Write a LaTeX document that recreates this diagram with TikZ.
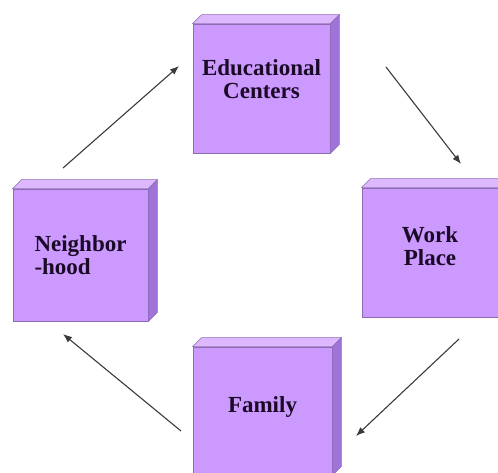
\documentclass[tikz,border=0pt]{standalone}
\usepackage{fontspec}
\setmainfont{Liberation Serif}[BoldFont={Liberation Serif Bold}]
\usetikzlibrary{arrows.meta,calc}
\definecolor{boxfront}{HTML}{CC99FF}
\definecolor{boxtop}{HTML}{DDB8FF}
\definecolor{boxside}{HTML}{9F73D9}
\definecolor{boxline}{HTML}{8C6BB3}
\definecolor{arrowgray}{HTML}{3A3A3A}
\definecolor{textcol}{HTML}{1A0A26}
\tikzset{
  box/.style={draw=boxline, line width=0.8pt, fill=boxfront, inner sep=0pt, align=center,
    text=textcol, font=\bfseries\fontsize{23}{23}\selectfont},
  boxtopface/.style={draw=boxline, line width=0.6pt, fill=boxtop},
  boxsideface/.style={draw=boxline, line width=0.6pt, fill=boxside},
  flow/.style={-{Latex[length=9pt,width=7pt]}, draw=arrowgray, line width=1.1pt}
}
\newcommand{\extrude}[1]{%
  \fill[boxtopface] (#1.north west) -- ++(9,-9) -- ($(#1.north east)+(9,-9)$) -- (#1.north east) -- cycle;
  \fill[boxsideface] (#1.north east) -- ++(9,-9) -- ($(#1.south east)+(9,-9)$) -- (#1.south east) -- cycle;
}
\begin{document}
\begin{tikzpicture}[x=1pt,y=-1pt]
\useasboundingbox (0,0) rectangle (498,472);
\clip (0,0) rectangle (498,472);
\node[box, minimum width=137pt, minimum height=129pt] (edu) at (261.5,88.5) {Educational\\Centers\\[-4pt]};
\node[box, minimum width=135pt, minimum height=132pt, align=left] (nbr) at (80.5,255) {Neighbor\\-hood};
\node[box, minimum width=136pt, minimum height=129pt] (work) at (430,252.5) {Work\\Place\\[-10pt]};
\node[box, minimum width=139pt, minimum height=128pt] (fam) at (262.5,411) {Family\\[-10pt]};
\extrude{edu}
\extrude{nbr}
\extrude{work}
\extrude{fam}
\coordinate (a1s) at (63,168);
\coordinate (a1e) at (179,66);
\coordinate (a2s) at (386,67);
\coordinate (a2e) at (461,164);
\coordinate (a3s) at (459,339);
\coordinate (a3e) at (356,436);
\coordinate (a4s) at (181,431);
\coordinate (a4e) at (63,334);
\draw[flow] (a1s) -- (a1e);
\draw[flow] (a2s) -- (a2e);
\draw[flow] (a3s) -- (a3e);
\draw[flow] (a4s) -- (a4e);
\end{tikzpicture}
\end{document}
